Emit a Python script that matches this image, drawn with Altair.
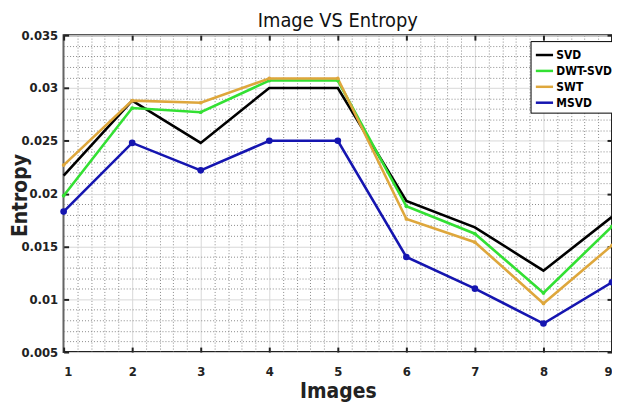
import altair as alt
import pandas as pd

images = [1, 2, 3, 4, 5, 6, 7, 8, 9]
svd = [0.0217, 0.0288, 0.0248, 0.0300, 0.0300, 0.0193, 0.0168, 0.0127, 0.0178]
dwt_svd = [0.0198, 0.0281, 0.0277, 0.0307, 0.0307, 0.0188, 0.0162, 0.0106, 0.0169]
swt = [0.0227, 0.0288, 0.0286, 0.0309, 0.0309, 0.0176, 0.0154, 0.0096, 0.0151]
msvd = [0.0183, 0.0248, 0.0222, 0.0250, 0.0250, 0.0140, 0.0110, 0.0077, 0.0116]

series_names = ["SVD", "DWT-SVD", "SWT", "MSVD"]
series_colors = ["#000000", "#33e033", "#dea73c", "#1515b0"]
point_sizes = {"SVD": 0, "DWT-SVD": 14, "SWT": 14, "MSVD": 45}

x_major = [1, 2, 3, 4, 5, 6, 7, 8, 9]
x_minor = [round(1 + i * 0.2, 1) for i in range(41) if i % 5 != 0]
y_major = [0.005, 0.01, 0.015, 0.02, 0.025, 0.03, 0.035]
y_minor = [round(0.005 + i * 0.001, 3) for i in range(31) if i % 5 != 0]

rows = []
for name, vals in zip(series_names, [svd, dwt_svd, swt, msvd]):
    for xi, v in zip(images, vals):
        rows.append({"Images": xi, "Entropy": v, "Series": name, "psize": point_sizes[name]})
df = pd.DataFrame(rows)

FONT = "DejaVu Sans Condensed, Liberation Sans Narrow, Liberation Sans"

xscale = alt.Scale(domain=[1, 9], nice=False, zero=False)
yscale = alt.Scale(domain=[0.005, 0.035], nice=False, zero=False)
color = alt.Color("Series:N", sort=series_names,
                  scale=alt.Scale(domain=series_names, range=series_colors),
                  legend=alt.Legend(title=None, orient="none", legendX=470, legendY=6,
                                    strokeColor="#000", fillColor="#fff", padding=4,
                                    symbolType="stroke", symbolStrokeWidth=2.5, symbolSize=300,
                                    labelFont=FONT, labelFontWeight="bold", labelFontSize=12,
                                    labelColor="#000", rowPadding=0, labelOffset=2))

base = alt.Chart(df)

hidden = dict(labels=False, domain=False, title=None, minExtent=0, maxExtent=0)

# minor dotted grid
minor = base.mark_point(opacity=0).encode(
    x=alt.X("Images:Q", scale=xscale, axis=alt.Axis(orient="bottom", values=x_minor, grid=True,
            gridDash=[1, 2], gridColor="#8a8a8a", gridWidth=1, ticks=False, **hidden)),
    y=alt.Y("Entropy:Q", scale=yscale, axis=alt.Axis(orient="left", values=y_minor, grid=True,
            gridDash=[1, 2], gridColor="#8a8a8a", gridWidth=1, ticks=False, **hidden)),
)

# major grid + labels + titles
major = base.mark_point(opacity=0).encode(
    x=alt.X("Images:Q", scale=xscale, axis=alt.Axis(orient="bottom", values=x_major, grid=True,
            gridColor="#d8d8d8", gridWidth=1, ticks=False, domain=False, format="d",
            labelFont=FONT, labelFontWeight="bold", labelFontSize=13, labelColor="#222",
            labelPadding=14, title="Images", titleFont=FONT, titleFontWeight="bold",
            titleFontSize=21, titleColor="#222", titlePadding=2)),
    y=alt.Y("Entropy:Q", scale=yscale, axis=alt.Axis(orient="left", values=y_major, grid=True,
            gridColor="#d8d8d8", gridWidth=1, ticks=False, domain=False, format=".3~f",
            labelFont=FONT, labelFontWeight="bold", labelFontSize=13, labelColor="#222",
            labelPadding=6, title="Entropy", titleFont=FONT, titleFontWeight="bold",
            titleFontSize=21, titleColor="#222", titleX=-37, titleY=161,
            titleBaseline="alphabetic", titleAngle=270)),
)

# inward ticks bottom/left
ticks_bl = base.mark_point(opacity=0).encode(
    x=alt.X("Images:Q", scale=xscale, axis=alt.Axis(orient="bottom", values=x_major, grid=False,
            ticks=True, tickSize=5, tickWidth=2, tickColor="#222", offset=-5, **hidden)),
    y=alt.Y("Entropy:Q", scale=yscale, axis=alt.Axis(orient="left", values=y_major, grid=False,
            ticks=True, tickSize=5, tickWidth=2, tickColor="#222", offset=-5, **hidden)),
)

# inward ticks top/right
ticks_tr = base.mark_point(opacity=0).encode(
    x=alt.X("Images:Q", scale=xscale, axis=alt.Axis(orient="top", values=x_major, grid=False,
            ticks=True, tickSize=5, tickWidth=2, tickColor="#222", offset=-5, **hidden)),
    y=alt.Y("Entropy:Q", scale=yscale, axis=alt.Axis(orient="right", values=y_major, grid=False,
            ticks=True, tickSize=5, tickWidth=2, tickColor="#222", offset=-5, **hidden)),
)

lines = base.mark_line(strokeWidth=2.6).encode(
    x=alt.X("Images:Q", scale=xscale, axis=None),
    y=alt.Y("Entropy:Q", scale=yscale, axis=None),
    color=color,
)

points = base.mark_circle(opacity=1).encode(
    x=alt.X("Images:Q", scale=xscale, axis=None),
    y=alt.Y("Entropy:Q", scale=yscale, axis=None),
    color=alt.Color("Series:N", sort=series_names,
                    scale=alt.Scale(domain=series_names, range=series_colors), legend=None),
    size=alt.Size("psize:Q", scale=None, legend=None),
)

chart = alt.layer(minor, major, ticks_bl, ticks_tr, lines, points).resolve_axis(
    x="independent", y="independent"
).properties(
    width=552, height=319,
    title=alt.TitleParams("Image  VS Entropy", font=FONT, fontSize=20, fontWeight="normal",
                          color="#111", anchor="middle", offset=7, dy=9),
    autosize=alt.AutoSizeParams(type="none"),
    padding={"left": 56, "top": 26, "right": 0, "bottom": 57},
    background="#ffffff",
).configure_view(stroke="#222", strokeWidth=2)

chart.save("out.html", embed_options={"renderer": "svg", "actions": False})
